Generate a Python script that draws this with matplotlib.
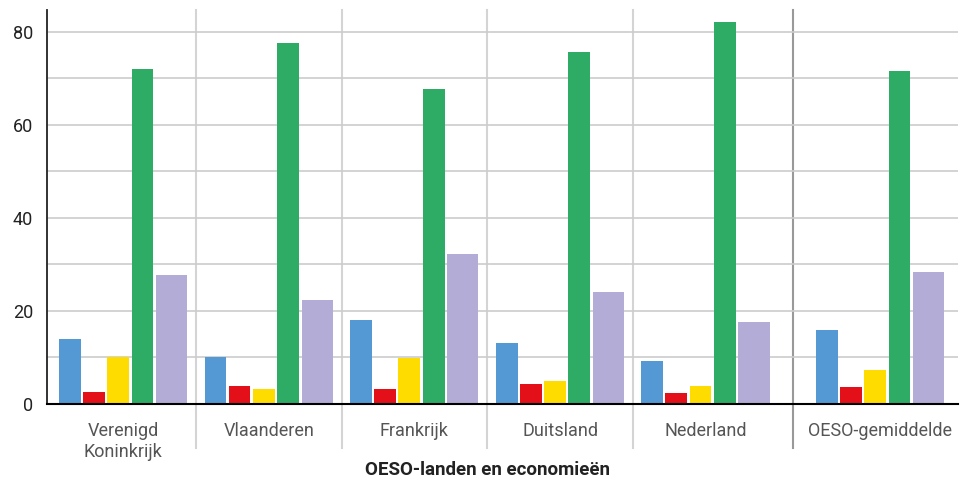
import numpy as np
import matplotlib
matplotlib.use("Agg")
import matplotlib.pyplot as plt
import matplotlib.transforms as mtransforms

plt.rcParams["font.family"] = ["Roboto", "DejaVu Sans"]

countries = ["Verenigd\nKoninkrijk", "Vlaanderen", "Frankrijk", "Duitsland", "Nederland", "OESO-gemiddelde"]
blue = [14.0, 10.1, 18.1, 13.1, 9.2, 15.9]
red = [2.6, 3.9, 3.2, 4.3, 2.4, 3.7]
yellow = [10.1, 3.2, 9.9, 4.9, 3.9, 7.3]
green = [72.0, 77.6, 67.7, 75.7, 82.2, 71.6]
purple = [27.7, 22.4, 32.3, 24.1, 17.6, 28.4]

# group positions (OESO average set a bit apart)
xpos = np.array([0, 1, 2, 3, 4, 5.2])

series = [
    (blue, "#5599d4", -0.366, 0.150),
    (red, "#e31019", -0.202, 0.150),
    (yellow, "#ffdc00", -0.035, 0.150),
    (green, "#2eac66", 0.132, 0.150),
    (purple, "#b3acd6", 0.332, 0.215),
]

fig = plt.figure(figsize=(9.63, 4.8), dpi=100)
ax = fig.add_axes([47 / 963, 76 / 480, 911 / 963, 394 / 480])

for vals, col, off, w in series:
    ax.bar(xpos + off, vals, width=w, color=col, zorder=3)

ax.set_ylim(0, 84.7)
ax.set_xlim(-0.524, 5.734)
ax.set_yticks([0, 20, 40, 60, 80])
ax.set_yticks(np.arange(10, 81, 20), minor=True)
ax.grid(axis="y", which="both", color="#cccccc", linewidth=1.2, zorder=0)
ax.tick_params(axis="y", which="both", length=0, pad=10, labelsize=13, labelcolor="#222222")
ax.tick_params(axis="x", length=0, pad=13, labelsize=13, labelcolor="#555555")
ax.set_xticks(xpos)
ax.set_xticklabels(countries, linespacing=1.2)

for s in ["top", "right"]:
    ax.spines[s].set_visible(False)
ax.spines["left"].set_color("#222222")
ax.spines["left"].set_linewidth(1.3)
ax.spines["bottom"].set_color("#000000")
ax.spines["bottom"].set_linewidth(1.5)
ax.spines["bottom"].set_zorder(4)

# group separators, reaching down into the label area
trans = mtransforms.blended_transform_factory(ax.transData, ax.transAxes)
mids = (xpos[:-1] + xpos[1:]) / 2
for i, m in enumerate(mids):
    col = "#999999" if i == len(mids) - 1 else "#d4d4d4"
    ax.plot([m, m], [-0.112, 1.0], transform=trans, color=col, linewidth=1.5,
            clip_on=False, zorder=1)

fig.text(487 / 963, 1 - 470 / 480, "OESO-landen en economieën", ha="center", va="center",
         fontsize=13.5, fontweight="bold", color="#222222")

fig.savefig("out.png", dpi=100)
